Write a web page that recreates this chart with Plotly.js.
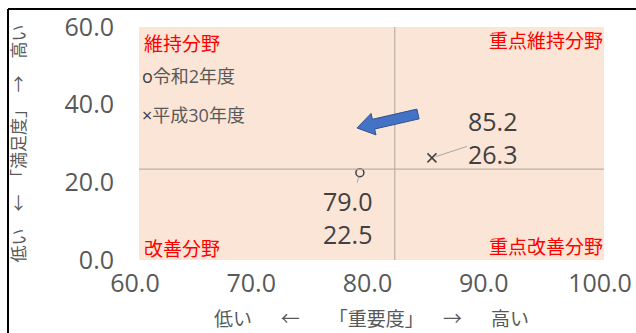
<!DOCTYPE html>
<html>
<head>
<meta charset="utf-8">
<script src="https://cdn.plot.ly/plotly-3.0.1.min.js"></script>
<style>
  html, body { margin: 0; padding: 0; background: #fff; }
  #chart { width: 636px; height: 333px; }
</style>
</head>
<body>
<div id="chart"></div>
<script>
// ---- data ----
const seriesNames = ['令和2年度', '平成30年度'];
const importance = [79.0, 85.2];      // x: 重要度
const satisfaction = [22.5, 26.3];    // y: 満足度
const avgImportance = 82.0;
const avgSatisfaction = 23.4;
const xTicks = [60, 70, 80, 90, 100];
const yTicks = [0, 20, 40, 60];
const quadrantLabels = ['維持分野', '重点維持分野', '改善分野', '重点改善分野'];
const SP = '\u3000\u00A0\u00A0';
const xTitle = '低い' + SP + '←' + SP + '「重要度」' + SP + '→' + SP + '高い';
const yTitle = '低い　←　「満足度」　→　高い';
const moveTail = [84.0, 37.6];   // blue arrow (data units)
const moveTip = [78.75, 34.0];

// ---- geometry ----
const W = 636, H = 333;
const M = {l: 139, r: 32, t: 27, b: 73};
const xRange = [60, 100], yRange = [0, 60];
const pw = W - M.l - M.r, ph = H - M.t - M.b;
const toPx = (x, y) => [M.l + (x - xRange[0]) / (xRange[1] - xRange[0]) * pw,
                        M.t + ph - (y - yRange[0]) / (yRange[1] - yRange[0]) * ph];
const toData = (px, py) => [xRange[0] + (px - M.l) / pw * (xRange[1] - xRange[0]),
                            yRange[0] + (M.t + ph - py) / ph * (yRange[1] - yRange[0])];
const pxX = px => (px - M.l) / pw;
const pxY = py => (M.t + ph - py) / ph;

// block arrow path
function blockArrow(tail, tip, shaftHalf, headHalf, headLen) {
  const a = toPx(tail[0], tail[1]), b = toPx(tip[0], tip[1]);
  const dx = b[0] - a[0], dy = b[1] - a[1];
  const L = Math.hypot(dx, dy);
  const u = [dx / L, dy / L], n = [u[1], -u[0]];
  const neck = [b[0] - u[0] * headLen, b[1] - u[1] * headLen];
  const pts = [
    [a[0] + n[0] * shaftHalf, a[1] + n[1] * shaftHalf],
    [neck[0] + n[0] * shaftHalf, neck[1] + n[1] * shaftHalf],
    [neck[0] + n[0] * headHalf, neck[1] + n[1] * headHalf],
    b,
    [neck[0] - n[0] * headHalf, neck[1] - n[1] * headHalf],
    [neck[0] - n[0] * shaftHalf, neck[1] - n[1] * shaftHalf],
    [a[0] - n[0] * shaftHalf, a[1] - n[1] * shaftHalf]
  ].map(p => toData(p[0], p[1]));
  return 'M ' + pts.map(p => p[0].toFixed(4) + ',' + p[1].toFixed(4)).join(' L ') + ' Z';
}

const FONT = 'Open Sans, "Noto Sans CJK JP", sans-serif';
const GREY = '#595959', DARK = '#404040', RED = '#FF0000';

const traces = [
  {
    type: 'scatter', mode: 'markers', name: seriesNames[0],
    x: [importance[0]], y: [satisfaction[0]],
    marker: {symbol: 'circle-open', size: 8, color: DARK, line: {width: 1.5, color: DARK}},
    hoverinfo: 'skip'
  },
  {
    type: 'scatter', mode: 'markers', name: seriesNames[1],
    x: [importance[1]], y: [satisfaction[1]],
    marker: {symbol: 'x-thin-open', size: 9, color: DARK, line: {width: 1.5, color: DARK}},
    hoverinfo: 'skip'
  }
];

const labelOffsets = [[-12, 45], [61, -20]];
const annotations = [];
importance.forEach((x, i) => {
  annotations.push({
    x: x, y: satisfaction[i], xref: 'x', yref: 'y',
    text: x.toFixed(1) + '<br>' + satisfaction[i].toFixed(1),
    showarrow: true, arrowhead: 0, arrowwidth: 1, arrowcolor: '#A6A6A6',
    ax: labelOffsets[i][0], ay: labelOffsets[i][1], standoff: 4,
    font: {family: FONT, size: 25, color: DARK}
  });
});
// quadrant labels
const qPos = [
  {x: pxX(142), y: pxY(44), xanchor: 'left'},
  {x: pxX(605), y: pxY(41), xanchor: 'right'},
  {x: pxX(142), y: pxY(249), xanchor: 'left'},
  {x: pxX(605), y: pxY(247), xanchor: 'right'}
];
quadrantLabels.forEach((t, i) => {
  annotations.push({
    xref: 'paper', yref: 'paper', x: qPos[i].x, y: qPos[i].y,
    xanchor: qPos[i].xanchor, yanchor: 'middle', showarrow: false,
    text: t, font: {family: FONT, size: 19, color: RED}
  });
});
// legend-like texts
const legSym = ['o', '×'];
const legY = [76, 115];
seriesNames.forEach((t, i) => {
  annotations.push({
    xref: 'paper', yref: 'paper', x: pxX(140), y: pxY(legY[i]),
    xanchor: 'left', yanchor: 'middle', showarrow: false,
    text: '<span style="color:' + DARK + '">' + legSym[i] + '</span>' + t,
    font: {family: FONT, size: 18, color: GREY}
  });
});

const shapes = [
  {type: 'line', xref: 'x', yref: 'paper', x0: avgImportance, x1: avgImportance, y0: 0, y1: 1,
   line: {color: '#BFAFA5', width: 1.2}},
  {type: 'line', xref: 'paper', yref: 'y', x0: 0, x1: 1, y0: avgSatisfaction, y1: avgSatisfaction,
   line: {color: '#BFAFA5', width: 1.2}},
  {type: 'path', xref: 'x', yref: 'y', path: blockArrow(moveTail, moveTip, 5, 11, 17),
   fillcolor: '#4472C4', line: {color: '#2F528F', width: 1}},
  // outer frame (top & left)
  {type: 'line', xref: 'paper', yref: 'paper', x0: pxX(8), x1: pxX(640), y0: pxY(9), y1: pxY(9),
   line: {color: '#000', width: 2}},
  {type: 'line', xref: 'paper', yref: 'paper', x0: pxX(8), x1: pxX(8), y0: pxY(9), y1: pxY(340),
   line: {color: '#000', width: 2}}
];

const layout = {
  width: W, height: H,
  margin: {l: M.l, r: M.r, t: M.t, b: M.b, pad: 0},
  paper_bgcolor: '#FFFFFF', plot_bgcolor: '#FBE5D6',
  showlegend: false,
  font: {family: FONT, color: GREY},
  xaxis: {
    range: xRange, tickvals: xTicks, ticktext: xTicks.map(v => v.toFixed(1)),
    showgrid: false, zeroline: false, showline: false, ticks: '',
    ticklabelstandoff: 6, ticklabelshift: -4,
    tickfont: {family: FONT, size: 25, color: GREY},
    title: {text: xTitle, font: {family: FONT, size: 19, color: GREY}, standoff: 14}
  },
  yaxis: {
    range: yRange, tickvals: yTicks, ticktext: yTicks.map(v => v.toFixed(1)),
    showgrid: false, zeroline: false, showline: false, ticks: '',
    ticklabelstandoff: 24,
    tickfont: {family: FONT, size: 25, color: GREY},
    title: {text: yTitle, font: {family: FONT, size: 17, color: GREY}, standoff: 34}
  },
  annotations: annotations,
  shapes: shapes
};

Plotly.newPlot('chart', traces, layout, {displayModeBar: false, staticPlot: true});
</script>
</body>
</html>
